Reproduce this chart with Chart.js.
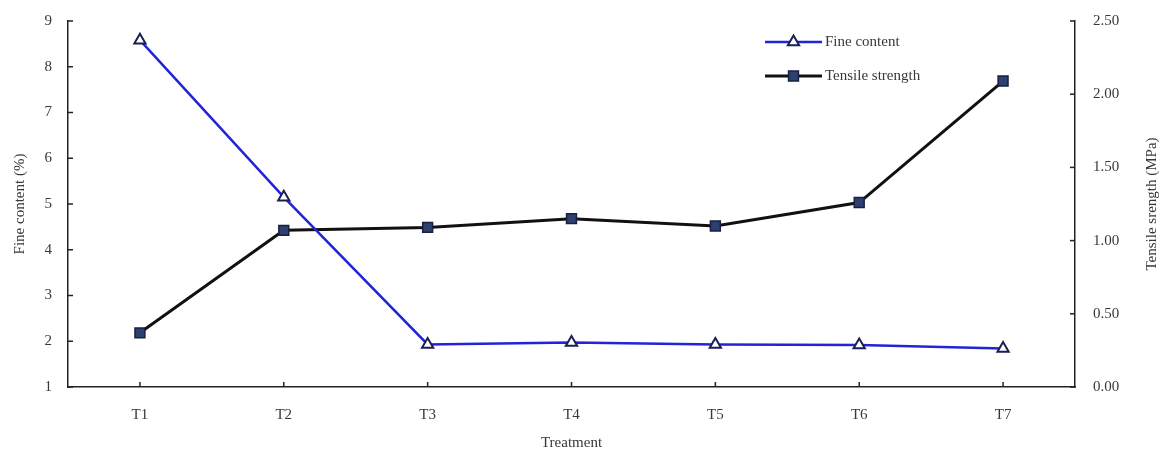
<!DOCTYPE html>
<html>
<head>
<meta charset="utf-8">
<script src="https://cdn.jsdelivr.net/npm/chart.js@4/dist/chart.umd.min.js"></script>
<style>
  html, body { margin: 0; padding: 0; background: #fff; }
  #wrap { width: 1163px; height: 456px; position: relative; }
</style>
</head>
<body>
<div id="wrap"><canvas id="chart"></canvas></div>
<script>
const treatments = ['T1', 'T2', 'T3', 'T4', 'T5', 'T6', 'T7'];
const fineContent = [8.58, 5.15, 1.93, 1.97, 1.93, 1.92, 1.84];
const tensileStrength = [0.37, 1.07, 1.09, 1.15, 1.10, 1.26, 2.09];
const leftTicks = [1, 2, 3, 4, 5, 6, 7, 8, 9];
const rightTicks = [0, 0.5, 1, 1.5, 2, 2.5];
const rightTitle = 'Tensile srength (MPa)';

const FONT = "'Liberation Serif', 'DejaVu Serif', serif";
const TEXT = '#383838';

// ticks drawn inward, like the original figure, plus the right title read bottom-up
const innerTicks = {
  id: 'innerTicks',
  afterDraw(chart) {
    const ctx = chart.ctx, a = chart.chartArea;
    ctx.save();
    ctx.strokeStyle = '#222';
    ctx.lineWidth = 1.5;
    const x = chart.scales.x, y = chart.scales.y, y1 = chart.scales.y1;
    x.ticks.forEach((t, i) => {
      const px = x.getPixelForTick(i);
      ctx.beginPath(); ctx.moveTo(px, a.bottom); ctx.lineTo(px, a.bottom - 5); ctx.stroke();
    });
    y.ticks.forEach((t, i) => {
      const py = y.getPixelForTick(i);
      ctx.beginPath(); ctx.moveTo(a.left, py); ctx.lineTo(a.left + 5, py); ctx.stroke();
    });
    y1.ticks.forEach((t, i) => {
      const py = y1.getPixelForTick(i);
      ctx.beginPath(); ctx.moveTo(a.right, py); ctx.lineTo(a.right - 5, py); ctx.stroke();
    });
    ctx.translate(1152, (a.top + a.bottom) / 2);
    ctx.rotate(-Math.PI / 2);
    ctx.fillStyle = TEXT;
    ctx.font = '15px ' + FONT;
    ctx.textAlign = 'center';
    ctx.textBaseline = 'middle';
    ctx.fillText(rightTitle, 0, 0);
    ctx.restore();
  }
};

// legend stacked in the upper right of the plot
const boxLegend = {
  id: 'boxLegend',
  afterDraw(chart) {
    const ctx = chart.ctx;
    const x0 = 765, x1 = 822, rows = [42, 76];
    chart.data.datasets.forEach((ds, i) => {
      const yy = rows[i];
      ctx.save();
      ctx.strokeStyle = ds.borderColor;
      ctx.lineWidth = ds.borderWidth;
      ctx.beginPath(); ctx.moveTo(x0, yy); ctx.lineTo(x1, yy); ctx.stroke();
      ctx.fillStyle = ds.pointBackgroundColor;
      ctx.strokeStyle = ds.pointBorderColor;
      ctx.lineWidth = ds.pointBorderWidth;
      Chart.helpers.drawPoint(ctx, {
        pointStyle: ds.pointStyle, radius: ds.pointRadius, borderWidth: ds.pointBorderWidth
      }, (x0 + x1) / 2, yy);
      ctx.fillStyle = TEXT;
      ctx.font = '15px ' + FONT;
      ctx.textBaseline = 'middle';
      ctx.fillText(ds.label, x1 + 3, yy);
      ctx.restore();
    });
  }
};

new Chart(document.getElementById('chart').getContext('2d'), {
  type: 'line',
  data: {
    labels: treatments,
    datasets: [
      {
        label: 'Fine content', data: fineContent, yAxisID: 'y',
        borderColor: '#2323d8', borderWidth: 2.5,
        pointStyle: 'triangle', pointRadius: 6.5, pointBorderWidth: 2,
        pointBackgroundColor: '#ffffff', pointBorderColor: '#1b1f55',
        tension: 0
      },
      {
        label: 'Tensile strength', data: tensileStrength, yAxisID: 'y1',
        borderColor: '#111111', borderWidth: 3,
        pointStyle: 'rect', pointRadius: 7, pointBorderWidth: 1.5,
        pointBackgroundColor: '#2d4170', pointBorderColor: '#17203d',
        tension: 0
      }
    ]
  },
  options: {
    responsive: true,
    maintainAspectRatio: false,
    animation: false,
    layout: { padding: { top: 21, left: 0, right: 0, bottom: 0 } },
    plugins: { legend: { display: false }, tooltip: { enabled: false } },
    scales: {
      x: {
        offset: true,
        grid: { display: false },
        border: { display: true, color: '#222', width: 1.5 },
        ticks: { color: TEXT, font: { family: FONT, size: 15 }, padding: 11 },
        title: { display: true, text: 'Treatment', color: TEXT, font: { family: FONT, size: 15 }, padding: { top: 12 } },
        afterFit(s) { s.height = 69; }
      },
      y: {
        position: 'left', min: 1, max: 9,
        afterBuildTicks(s) { s.ticks = leftTicks.map(v => ({ value: v })); },
        grid: { display: false },
        border: { display: true, color: '#222', width: 1.5 },
        ticks: { color: TEXT, font: { family: FONT, size: 15 }, padding: 8 },
        title: { display: true, text: 'Fine content (%)', color: TEXT, font: { family: FONT, size: 15 }, padding: { top: 11, bottom: 8 } },
        afterFit(s) { s.width = 68; }
      },
      y1: {
        position: 'right', min: 0, max: 2.5,
        afterBuildTicks(s) { s.ticks = rightTicks.map(v => ({ value: v })); },
        grid: { display: false },
        border: { display: true, color: '#222', width: 1.5 },
        ticks: { color: TEXT, font: { family: FONT, size: 15 }, padding: 10, callback: v => Number(v).toFixed(2) },
        afterFit(s) { s.width = 88; }
      }
    }
  },
  plugins: [innerTicks, boxLegend]
});
</script>
</body>
</html>
